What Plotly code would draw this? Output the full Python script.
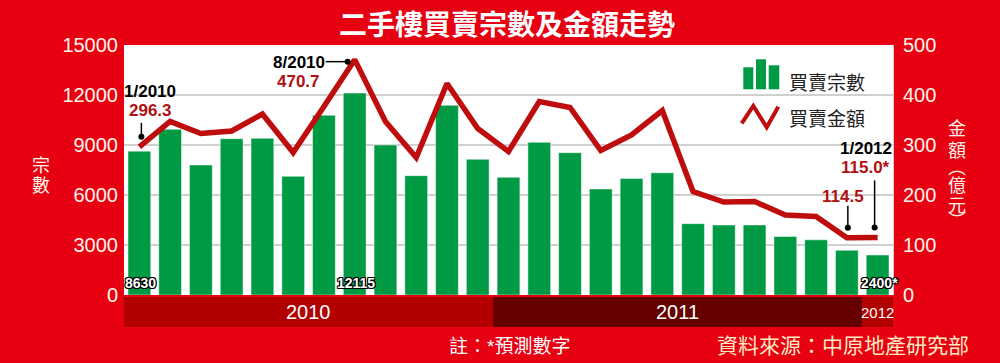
import plotly.graph_objects as go

# ---------------- data ----------------
months = [f"{m}/2010" for m in range(1, 13)] + [f"{m}/2011" for m in range(1, 13)] + ["1/2012"]
volume = [8630, 9940, 7800, 9380, 9400, 7120, 10780, 12115, 9000, 7160, 11380, 8140,
          7060, 9160, 8540, 6360, 6990, 7330, 4280, 4200, 4200, 3510, 3310, 2680, 2400]
amount = [296.3, 347, 323, 328, 362, 285, 377, 470.7, 347, 275, 423, 333,
          287, 387, 375, 289, 320, 369, 207, 186, 187, 160, 157, 114.5, 115.0]
years = ["2010", "2011", "2012"]
year_counts = [12, 12, 1]
vol_ticks = [0, 3000, 6000, 9000, 12000, 15000]
amt_ticks = [0, 100, 200, 300, 400, 500]
bar_label_idx = [0, 7, 24]
title = "二手樓買賣宗數及金額走勢"
legend_names = ["買賣宗數", "買賣金額"]
left_title = ["宗", "數"]
right_title = ["金", "額", "︵", "億", "元", "︶"]
note = "註：<span style='font-family:Liberation Sans'>*</span>預測數字"
source = "資料來源：中原地產研究部"

# ---------------- styles ----------------
BG = "#e60012"
GREEN = "#009a44"
LINE = "#bf0d0d"
VALRED = "#b01010"
TICK = "#fff4e8"
CJK = "Noto Sans CJK TC"
SANS = "Liberation Sans, Arial, sans-serif"
W, H = 1000, 363
L, R, T, B = 124, 107, 45, 68
PW, PH = W - L - R, H - T - B


def px2x(px):
    return (px - L) / PW


def py2y(py):
    return (H - B - py) / PH


fig = go.Figure()
fig.add_trace(go.Bar(x=months, y=volume, name=legend_names[0], marker=dict(color=GREEN,
                     line=dict(color="rgba(255,255,255,0.45)", width=1)), yaxis="y", showlegend=False))
fig.add_trace(go.Scatter(x=months, y=amount, name=legend_names[1], mode="lines",
                         line=dict(color=LINE, width=5.5), yaxis="y2", showlegend=False,
                         cliponaxis=False))

shapes = []
annotations = []

# year bands
band_colors = ["#b20000", "#650000", "#b00000"]
start = -0.5
for yr, cnt, col in zip(years, year_counts, band_colors):
    shapes.append(dict(type="rect", xref="x", yref="paper", x0=start, x1=start + cnt,
                       y0=py2y(327), y1=py2y(297), fillcolor=col, line=dict(width=0), layer="below"))
    narrow = cnt == 1
    annotations.append(dict(xref="x", yref="paper", x=start + cnt / 2, y=py2y(312), text=yr,
                            showarrow=False, xanchor="center", yanchor="middle",
                            font=dict(family=SANS, size=15 if narrow else 20, color="white")))
    start += cnt

# bar value labels (white with black outline)
outline = ("1px 1px 0 #000, -1px -1px 0 #000, 1px -1px 0 #000, -1px 1px 0 #000, "
           "0 1px 0 #000, 1px 0 0 #000, 0 -1px 0 #000, -1px 0 0 #000")
for i in bar_label_idx:
    txt = str(volume[i]) + ("*" if i == len(volume) - 1 else "")
    annotations.append(dict(xref="x", yref="y", x=months[i], y=0, text=txt, showarrow=False,
                            xanchor="center", yanchor="middle", yshift=12,
                            xshift=2 if i == len(volume) - 1 else 1,
                            font=dict(family=SANS, size=14, color="white", weight="bold",
                                      shadow=outline)))


def pointer_shapes(i, pointer, dot):
    x0, y0, x1, y1 = pointer
    shapes.append(dict(type="line", xref="x", yref="y2", xsizemode="pixel", ysizemode="pixel",
                       xanchor=i, yanchor=amount[i], x0=x0, x1=x1, y0=y0, y1=y1,
                       line=dict(color="black", width=1.5)))
    cx, cy = dot
    shapes.append(dict(type="circle", xref="x", yref="y2", xsizemode="pixel", ysizemode="pixel",
                       xanchor=i, yanchor=amount[i], x0=cx - 3, x1=cx + 3, y0=cy - 3, y1=cy + 3,
                       fillcolor="black", line=dict(width=0)))


def callout(i, top_txt, val_txt, dx_txt, dy_top, dy_val, pointer, dot):
    if top_txt:
        annotations.append(dict(xref="x", yref="y2", x=months[i], y=amount[i], text=top_txt,
                                showarrow=False, xshift=dx_txt, yshift=dy_top,
                                font=dict(family=SANS, size=17, color="black", weight="bold")))
    annotations.append(dict(xref="x", yref="y2", x=months[i], y=amount[i], text=val_txt,
                            showarrow=False, xshift=dx_txt, yshift=dy_val,
                            font=dict(family=SANS, size=17, color=VALRED, weight="bold")))
    pointer_shapes(i, pointer, dot)


callout(0, months[0], f"{amount[0]:.1f}", 11, 55, 36, (2, 10, 2, 24), (2, 10))
callout(7, months[7], f"{amount[7]:.1f}", -56, -3, -22, (-29, -2, -7, -2), (-7, -2))
callout(23, None, f"{amount[23]:.1f}", -4, 0, 41, (1, 10, 1, 32), (1, 10))
callout(24, months[24], f"{amount[24]:.1f}*", -12, 89, 70, (-3, 10, -3, 57), (-3, 10))

# custom legend
for (xa, xb, ytop) in [(743.3, 753.3, 67.3), (756, 766, 59.3), (768.7, 779.3, 65.3)]:
    shapes.append(dict(type="rect", xref="paper", yref="paper", x0=px2x(xa), x1=px2x(xb),
                       y0=py2y(89.3), y1=py2y(ytop), fillcolor=GREEN, line=dict(width=0)))
zig = [(741.7, 123.3), (753.3, 106), (766.7, 127.3), (778.3, 106.7)]
path = "M " + " L ".join(f"{px2x(a)},{py2y(b)}" for a, b in zig)
shapes.append(dict(type="path", xref="paper", yref="paper", path=path,
                   line=dict(color=LINE, width=4)))
for name, py in zip(legend_names, [81.7, 117.3]):
    annotations.append(dict(xref="paper", yref="paper", x=px2x(787), y=py2y(py), text=name,
                            showarrow=False, xanchor="left", yanchor="middle",
                            font=dict(family=CJK, size=19, color="#222")))

# title
annotations.append(dict(xref="paper", yref="paper", x=px2x(507), y=py2y(23), text=f"<b>{title}</b>",
                        showarrow=False, xanchor="center", yanchor="middle",
                        font=dict(family=CJK, size=28, color="white", weight=900)))

# axis titles (stacked vertical chars, one annotation per char)
for ch, py in zip(left_title, [164, 184]):
    annotations.append(dict(xref="paper", yref="paper", x=px2x(41), y=py2y(py), text=ch,
                            showarrow=False, xanchor="center", yanchor="middle",
                            font=dict(family=CJK, size=18, color=TICK)))
for ch, py in zip(right_title, [127.5, 148.5, 166, 184, 203.5, 218.5]):
    annotations.append(dict(xref="paper", yref="paper", x=px2x(957), y=py2y(py), text=ch,
                            showarrow=False, xanchor="center", yanchor="middle",
                            font=dict(family=CJK, size=18, color=TICK)))

# footer texts
annotations.append(dict(xref="paper", yref="paper", x=px2x(509), y=py2y(344), text=note,
                        showarrow=False, xanchor="center", yanchor="middle",
                        font=dict(family=CJK, size=19, color="white")))
annotations.append(dict(xref="paper", yref="paper", x=px2x(843), y=py2y(344), text=source,
                        showarrow=False, xanchor="center", yanchor="middle",
                        font=dict(family=CJK, size=21, color="#ffe9c4")))

fig.update_layout(
    width=W, height=H,
    margin=dict(l=L, r=R, t=T, b=B, pad=0),
    paper_bgcolor=BG, plot_bgcolor="white",
    bargap=0.26,
    showlegend=False,
    xaxis=dict(type="category", range=[-0.5, len(months) - 0.5], showticklabels=False,
               showgrid=False, zeroline=False, ticks="", fixedrange=True),
    yaxis=dict(range=[0, 15000], tickvals=vol_ticks, ticktext=[str(v) for v in vol_ticks],
               showgrid=True, gridcolor="#d0d0d0", gridwidth=1.5, zeroline=False,
               tickfont=dict(family=SANS, size=20, color=TICK),
               ticklabelstandoff=5, automargin=False),
    yaxis2=dict(range=[0, 500], tickvals=amt_ticks, ticktext=[str(v) for v in amt_ticks],
                overlaying="y", side="right", showgrid=False, zeroline=False,
                showline=True, linecolor="#d0d0d0", linewidth=1,
                tickfont=dict(family=SANS, size=20, color=TICK),
                ticklabelstandoff=5, automargin=False),
    shapes=shapes,
    annotations=annotations,
)

fig.write_html("out.html", config={"displayModeBar": False},
               post_script="document.body.style.margin='0';document.body.style.overflow='hidden';")
